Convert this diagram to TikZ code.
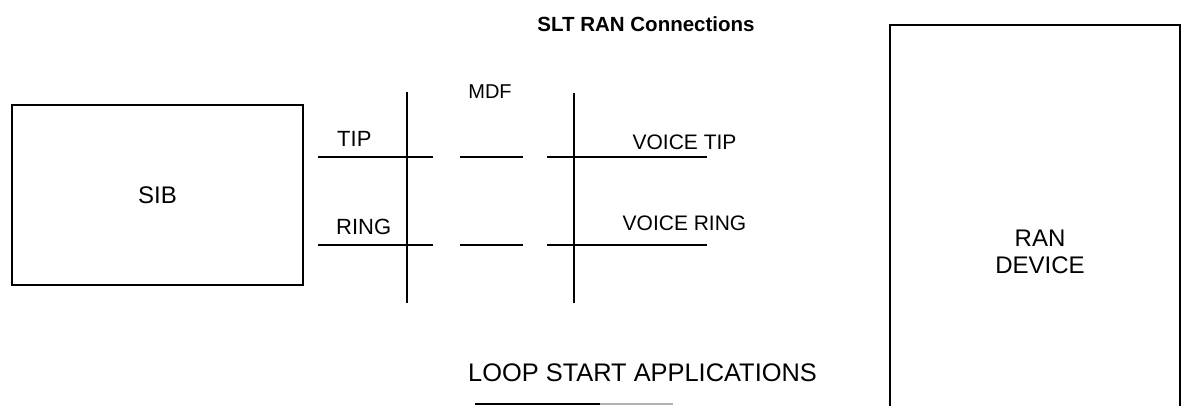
\documentclass[tikz,border=0pt]{standalone}
\usepackage{fontspec}
\setmainfont{Liberation Sans}
\begin{document}
\begin{tikzpicture}[x=1pt, y=-1pt,
    unitbox/.style={draw, line width=1.8pt, inner sep=0pt,
                    font=\fontsize{24}{27}\selectfont, align=center},
    wire/.style={line width=1.8pt},
    lbl/.style={inner sep=0pt, font=\fontsize{22}{26}\selectfont},
    voicelbl/.style={inner sep=0pt, font=\fontsize{21}{25}\selectfont}]
\useasboundingbox (0,0) rectangle (1182,406);
% title
\node[inner sep=0pt, font=\fontsize{20.5}{24}\selectfont\bfseries] (title) at (646,24)
  {SLT RAN Connections};
% switch side
\node[unitbox, minimum width=291pt, minimum height=180pt] (sib) at (157.5,195) {SIB};
% RAN device, open at the bottom
\coordinate (ran-bl) at (890,406);
\coordinate (ran-tl) at (890,25);
\coordinate (ran-tr) at (1180,25);
\coordinate (ran-br) at (1180,406);
\draw[line width=1.8pt] (ran-bl) -- (ran-tl) -- (ran-tr) -- (ran-br);
\node[inner sep=0pt, font=\fontsize{24}{27}\selectfont, align=center] (ran) at (1040,251.5)
  {RAN\\DEVICE};
% MDF verticals
\node[inner sep=0pt, font=\fontsize{20}{24}\selectfont] (mdf) at (490,92) {MDF};
\coordinate (mdfa-top) at (407,92);
\coordinate (mdfa-bot) at (407,303);
\coordinate (mdfb-top) at (574,93);
\coordinate (mdfb-bot) at (574,303);
\draw[wire] (mdfa-top) -- (mdfa-bot);
\draw[wire] (mdfb-top) -- (mdfb-bot);
% tip and ring runs
\foreach \y/\n in {157/tip,245/ring}{
  \coordinate (\n-a) at (318,\y);
  \coordinate (\n-b) at (433,\y);
  \coordinate (\n-c) at (460,\y);
  \coordinate (\n-d) at (523,\y);
  \coordinate (\n-e) at (547,\y);
  \coordinate (\n-f) at (707,\y);
  \draw[wire] (\n-a) -- (\n-b);
  \draw[wire] (\n-c) -- (\n-d);
  \draw[wire] (\n-e) -- (\n-f);
}
\node[lbl, anchor=west] (tiplbl) at (337,139) {TIP};
\node[lbl, anchor=west] (ringlbl) at (336,227) {RING};
\node[voicelbl] (vtip) at (684.5,142.5) {VOICE TIP};
\node[voicelbl] (vring) at (684.5,223.5) {VOICE RING};
% caption
\node[inner sep=0pt, font=\fontsize{25.4}{30}\selectfont] (caption) at (642.5,373)
  {LOOP START APPLICATIONS};
\coordinate (ul-a) at (475,404);
\coordinate (ul-b) at (600,404);
\coordinate (ul-c) at (673,404);
\draw[line width=1.4pt] (ul-a) -- (ul-b);
\draw[line width=1.4pt, gray!60] (ul-b) -- (ul-c);
\end{tikzpicture}
\end{document}
